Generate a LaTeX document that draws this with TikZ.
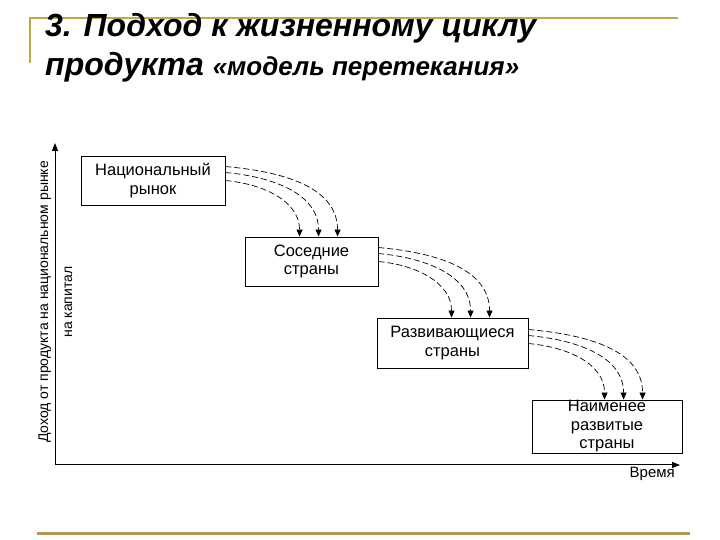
\documentclass[tikz,border=0pt]{standalone}
\usepackage{fontspec}
\setmainfont{Liberation Sans}
\usetikzlibrary{arrows.meta}
\definecolor{goldtop}{RGB}{190,168,72}
\definecolor{goldbot}{RGB}{180,150,90}
\begin{document}
\begin{tikzpicture}[x=1pt,y=1pt,
  mbox/.style={draw, line width=0.9pt, inner sep=0pt, align=center, font=\fontsize{16.5}{18.5}\selectfont},
  flow/.style={line width=0.7pt, dash pattern=on 6pt off 3pt, -{Triangle[length=7pt,width=6pt]}},
  axisline/.style={line width=1pt, {Triangle[length=8pt,width=6pt]}-{Triangle[length=8pt,width=6pt]}},
  titlefont/.style={font=\bfseries\itshape\fontsize{32}{36}\selectfont}]
\useasboundingbox (0,0) rectangle (720,540);
% decorative rules
\draw[goldtop, line width=2pt] (30,477) -- (30,522) -- (678,522);
\draw[goldbot, line width=3pt] (37,6) -- (690,6);
% title
\node[anchor=base west, inner sep=0pt, titlefont] (t1) at (45,503) {3. Подход к жизненному циклу};
\node[anchor=base west, inner sep=0pt, titlefont] (t2) at (45,464) {продукта {\fontsize{26}{30}\selectfont «модель перетекания»}};
% axes
\coordinate (o) at (55,75);
\coordinate (ytip) at (55,397);
\coordinate (xtip) at (680,75);
\draw[axisline] (ytip) -- (o) -- (xtip);
\node[rotate=90, align=center, inner sep=0pt, font=\fontsize{14}{24}\selectfont] (ylab) at (55.5,238) {Доход от продукта на национальном рынке\\на капитал};
\node[anchor=base east, inner sep=0pt, font=\fontsize{15}{18}\selectfont] (time) at (675,62) {Время};
% boxes
\node[mbox, minimum width=144pt, minimum height=49pt] (b1) at (153,359.5) {Национальный\\рынок};
\node[mbox, minimum width=133pt, minimum height=49pt] (b2) at (311.5,278.5) {Соседние\\страны};
\node[mbox, minimum width=151pt, minimum height=50pt] (b3) at (452.5,197) {Развивающиеся\\страны};
\node[mbox, minimum width=150pt, minimum height=53pt] (b4) at (607,113.5) {Наименее\\развитые\\страны};
% flows
\foreach \s/\t in {11/93, 17/74, 25/55}
  \draw[flow] ([yshift=-\s pt]b1.north east) to[out=-5,in=90] ([xshift=\t pt]b2.north west);
\foreach \s/\t in {11/113, 17/94, 25/75}
  \draw[flow] ([yshift=-\s pt]b2.north east) to[out=-5,in=90] ([xshift=\t pt]b3.north west);
\foreach \s/\t in {12/111, 18/92, 26/73}
  \draw[flow] ([yshift=-\s pt]b3.north east) to[out=-5,in=90] ([xshift=\t pt]b4.north west);
\end{tikzpicture}
\end{document}
